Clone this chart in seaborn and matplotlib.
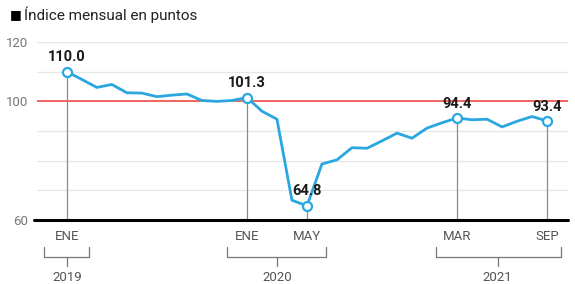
import numpy as np
import pandas as pd
import matplotlib
matplotlib.use('Agg')
import matplotlib.pyplot as plt
import seaborn as sns

# Índice mensual ene-2019 .. sep-2021
valores = [110.0, 107.4, 104.7, 105.7, 102.9, 102.8, 101.6, 102.1, 102.5, 100.3, 100.0, 100.3,
           101.3, 96.7, 94.0, 66.7, 64.8, 78.9, 80.3, 84.4, 84.2, 86.7, 89.3, 87.6,
           91.0, 92.8, 94.4, 93.8, 94.0, 91.4, 93.3, 94.9, 93.4]
meses = np.arange(len(valores))

# puntos destacados
destacados = [0, 12, 16, 26, 32]
etiquetas_mes = ['ENE', 'ENE', 'MAY', 'MAR', 'SEP']
anios = ['2019', '2020', '2021']
llaves = [(-1.5, 1.5, 0.0), (10.7, 17.3, 14.0), (24.6, 32.9, 28.7)]

df = pd.DataFrame({'mes': meses, 'indice': valores})

sns.set_style('white')
plt.rcParams['font.family'] = ['Roboto', 'DejaVu Sans']

azul = '#2aa6e0'
gris = '#8a8a8a'

fig = plt.figure(figsize=(5.75, 2.84), dpi=100)
ax = fig.add_axes([0.064, 0.225, 0.924, 0.627])

# rejilla
for y in [70, 80, 90, 110, 120]:
    ax.axhline(y, color='#e6e6e6', lw=0.9, zorder=0)
ax.axhline(100, color='#ee3b33', lw=1.1, zorder=1)

# líneas verticales de los destacados
for i in destacados:
    ax.plot([i, i], [60, valores[i]], color=gris, lw=0.9, zorder=1)

sns.lineplot(data=df, x='mes', y='indice', color=azul, lw=2, ax=ax, zorder=3)
ax.scatter(meses[destacados], np.array(valores)[destacados], s=42, facecolor='white',
           edgecolor=azul, linewidth=1.6, zorder=4)

for i in destacados:
    ax.text(i, valores[i] + 2.5, f'{valores[i]:.1f}', ha='center', va='bottom',
            fontsize=10.5, fontweight='bold', color='#1a1a1a', zorder=5)

ax.plot([-0.005, 1.0], [0, 0], transform=ax.transAxes, color='black', lw=2.2,
        zorder=6, clip_on=False)

ax.set_xlim(-2, 33.4)
ax.set_ylim(60, 120)
ax.set_yticks([60, 100, 120])
ax.tick_params(axis='y', length=0, labelsize=9.5, labelcolor='#777777', pad=6)
ax.set_xticks([])
ax.set_xlabel('')
ax.set_ylabel('')
for s in ax.spines.values():
    s.set_visible(False)

# etiquetas de meses, llaves y años
tr = ax.get_xaxis_transform()
for i, lab in zip(destacados, etiquetas_mes):
    ax.text(i, -0.09, lab, transform=tr, ha='center', va='center', fontsize=9.5,
            color='#555555')
for (x0, x1, xc), anio in zip(llaves, anios):
    ax.plot([x0, x0, x1, x1], [-0.15, -0.205, -0.205, -0.15], transform=tr,
            color='#777777', lw=0.9, clip_on=False)
    ax.plot([xc, xc], [-0.205, -0.255], transform=tr, color='#777777', lw=0.9,
            clip_on=False)
    ax.text(xc, -0.32, anio, transform=tr, ha='center', va='center', fontsize=9.5,
            color='#555555')

# título con viñeta
fig.text(0.018, 0.948, '■', fontsize=9, va='center', ha='left', color='black',
         family=['DejaVu Sans'])
fig.text(0.042, 0.948, 'Índice mensual en puntos', fontsize=11, va='center',
         ha='left', color='#222222')

fig.savefig('out.png', dpi=100, facecolor='white')
